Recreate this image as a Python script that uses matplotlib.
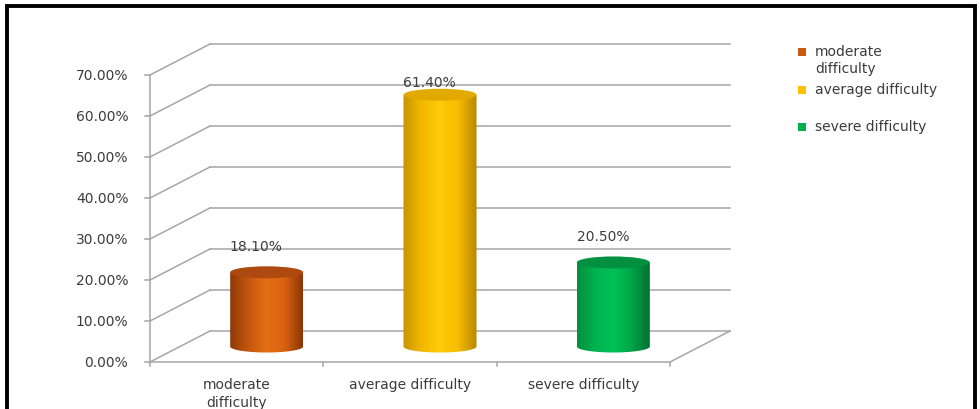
import numpy as np
import matplotlib.pyplot as plt
from matplotlib.patches import Ellipse, Rectangle, PathPatch
from matplotlib.path import Path
from matplotlib.colors import LinearSegmentedColormap

# data
categories = ['moderate\ndifficulty', 'average difficulty', 'severe difficulty']
values = [18.1, 61.4, 20.5]
value_labels = ['18.10%', '61.40%', '20.50%']
y_ticks = [0, 10, 20, 30, 40, 50, 60, 70]
y_tick_labels = ['0.00%', '10.00%', '20.00%', '30.00%', '40.00%', '50.00%', '60.00%', '70.00%']

# colours (edge -> highlight -> edge) for the cylinder bodies
body_colors = [
    ['#8E3A0A', '#C4560E', '#E46E16', '#D8620F', '#8A3608'],
    ['#C89400', '#F2B800', '#FFCB0A', '#F5BC00', '#B98600'],
    ['#00903E', '#00B24E', '#00C257', '#00A548', '#006F30'],
]
top_colors = ['#AE4A10', '#E2AA00', '#00903F']
swatch_colors = ['#C55A11', '#FFC000', '#00B050']
grid_color = '#A6A6A6'
text_color = '#3C3C3C'

W, H = 980, 410
fig = plt.figure(figsize=(W / 100, H / 100), dpi=100)
fig.patch.set_facecolor('white')
ax = fig.add_axes([0, 0, 1, 1])

# pixel layout of the front wall -> data limits
x_left_px, x_step_px = 150, 173.33   # front left edge, pixels per category
y0_px, y_step_px = 363, 4.1          # 0% line (from top), pixels per percent
depth_x, depth_y = 60 / x_step_px, 31 / y_step_px
ncat = len(categories)
x_lo = -0.5 - x_left_px / x_step_px
x_hi = -0.5 + (W - x_left_px) / x_step_px
y_lo = -(H - y0_px) / y_step_px
y_hi = y0_px / y_step_px

# back wall gridlines and side wall diagonals
xl, xr = -0.5, ncat - 0.5
for t, lab in zip(y_ticks, y_tick_labels):
    ax.plot([xl + depth_x, xr + depth_x], [t + depth_y, t + depth_y], color=grid_color, lw=1.1, zorder=1)
    ax.plot([xl, xl + depth_x], [t, t + depth_y], color=grid_color, lw=1.1, zorder=1)
    ax.plot([xl - 0.03, xl], [t, t], color=grid_color, lw=1.1, zorder=1)
    ax.text(xl - 0.125, t, lab, ha='right', va='center', fontsize=10, color=text_color)

# front axis line and floor
ax.plot([xl, xl], [0, y_ticks[-1]], color=grid_color, lw=1.1, zorder=1)
ax.plot([xl, xr], [0, 0], color=grid_color, lw=1.1, zorder=1)
ax.plot([xr, xr + depth_x], [0, depth_y], color=grid_color, lw=1.1, zorder=1)
for k in range(ncat + 1):
    ax.plot([xl + k, xl + k], [0, -1.0], color=grid_color, lw=1.1, zorder=1)

# cylinders
half_w = 36.5 / x_step_px
ell_h = 6 / y_step_px
grad = np.linspace(0, 1, 256).reshape(1, -1)
theta = np.linspace(np.pi, 2 * np.pi, 60)
for i, v in enumerate(values):
    xc = i + depth_x / 2
    yb = depth_y / 2
    yt = v + depth_y / 2
    verts = [(xc - half_w, yt), (xc - half_w, yb)]
    verts += list(zip(xc + half_w * np.cos(theta), yb + ell_h * np.sin(theta)))
    verts += [(xc + half_w, yt), (xc - half_w, yt)]
    body = PathPatch(Path(verts), facecolor='none', edgecolor='none', transform=ax.transData)
    ax.add_patch(body)
    cmap = LinearSegmentedColormap.from_list('cyl%d' % i, body_colors[i])
    im = ax.imshow(grad, cmap=cmap, extent=[xc - half_w, xc + half_w, yb - ell_h, yt],
                   aspect='auto', interpolation='bicubic', zorder=2)
    im.set_clip_path(body)
    ax.add_patch(Ellipse((xc, yt), 2 * half_w, 2 * ell_h, facecolor=top_colors[i],
                         edgecolor='none', zorder=3))
    ax.text(xc - 0.06, min(v + 10.3, 68.2), value_labels[i], ha='center', va='center',
            fontsize=10, color=text_color, zorder=4)

# category labels
for i, c in enumerate(categories):
    ax.text(i, -3.6, c, ha='center', va='top', fontsize=10, color=text_color,
            linespacing=1.35)

ax.set_xlim(x_lo, x_hi)
ax.set_ylim(y_lo, y_hi)
ax.axis('off')

# legend
legend_rows = [53, 91, 128]
legend_labels = ['moderate\ndifficulty', 'average difficulty', 'severe difficulty']
for lab, col, ry in zip(legend_labels, swatch_colors, legend_rows):
    fig.patches.append(Rectangle((798 / W, 1 - (ry + 4) / H), 8 / W, 8 / H,
                                 transform=fig.transFigure, facecolor=col, edgecolor='none'))
    fig.text(815 / W, 1 - (ry - 8) / H, lab, ha='left', va='top', fontsize=10,
             color=text_color, linespacing=1.25)

# outer frame
fig.patches.append(Rectangle((7 / W, -0.1), (975 - 7) / W, 1.1 - 7 / H, transform=fig.transFigure,
                             fill=False, edgecolor='black', linewidth=2.8))

fig.savefig('out.png', dpi=100)
